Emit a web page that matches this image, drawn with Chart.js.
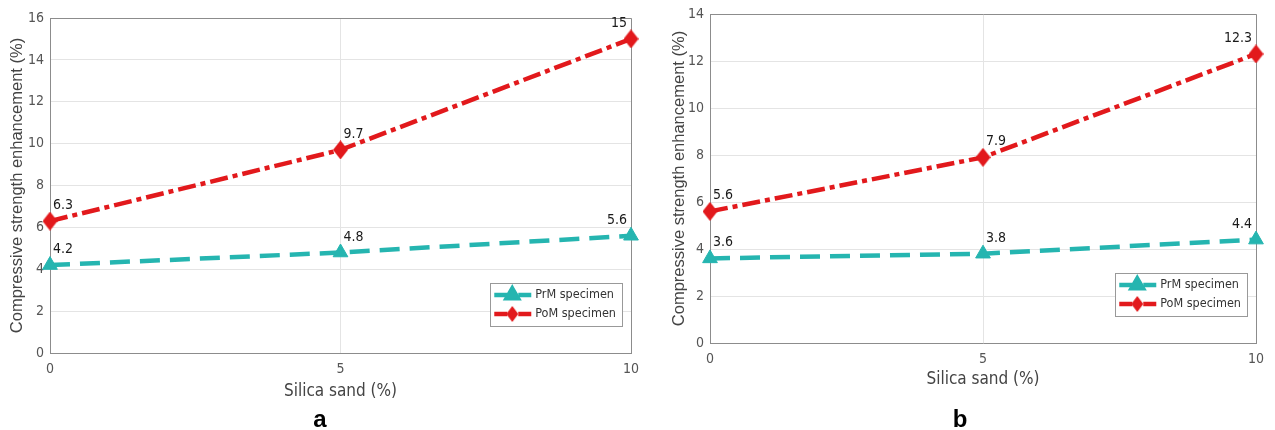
<!DOCTYPE html>
<html lang="en">
<head>
<meta charset="UTF-8">
<title>Compressive strength enhancement vs silica sand</title>
<script src="https://cdn.jsdelivr.net/npm/chart.js"></script>
<style>
  body { margin: 0; background: #fff; width: 1275px; height: 430px; position: relative; overflow: hidden; }
  canvas { position: absolute; top: 0; }
  #chartA { left: 0; }
  #chartB { left: 640px; }
  .panel { position: absolute; top: 407px; transform: translateX(-50%); font: bold 24px "Liberation Sans", Arial, sans-serif; line-height: 24px; color: #000; }
</style>
</head>
<body>

<canvas id="chartA" width="640" height="430"></canvas>
<canvas id="chartB" width="635" height="430"></canvas>
<div class="panel" style="left:320px">a</div>
<div class="panel" style="left:960px">b</div>

<script>
  // data
  const silicaSand = [0, 5, 10];
  const seriesNames = ['PrM specimen', 'PoM specimen'];
  const prmA = [4.2, 4.8, 5.6];
  const pomA = [6.3, 9.7, 15];
  const prmB = [3.6, 3.8, 4.4];
  const pomB = [5.6, 7.9, 12.3];
  const xTicks = [0, 5, 10];

  const teal = '#25b5b0';
  const red = '#e2191c';
  const narrow = '"Liberation Sans Narrow", "DejaVu Sans Condensed", Arial, sans-serif';
  const regular = '"Liberation Sans", Arial, sans-serif';

  // MATLAB-like diamond: a bit taller than wide
  function diamond(w, h) {
    const c = document.createElement('canvas');
    c.width = w; c.height = h;
    const g = c.getContext('2d');
    g.fillStyle = red;
    g.beginPath();
    g.moveTo(w / 2, 0);
    g.lineTo(w, h / 2);
    g.lineTo(w / 2, h);
    g.lineTo(0, h / 2);
    g.closePath();
    g.fill();
    return c;
  }
  const bigDiamond = diamond(15, 19);
  const smallDiamond = diamond(12, 16);

  // top + right edges of the box
  const boxPlugin = {
    id: 'box',
    beforeDatasetsDraw(chart) {
      const a = chart.chartArea, ctx = chart.ctx;
      ctx.save();
      ctx.strokeStyle = '#8c8c8c';
      ctx.lineWidth = 1;
      ctx.beginPath();
      ctx.moveTo(Math.round(a.left) + 0.5, Math.round(a.top) + 0.5);
      ctx.lineTo(Math.round(a.right) + 0.5, Math.round(a.top) + 0.5);
      ctx.lineTo(Math.round(a.right) + 0.5, Math.round(a.bottom) + 0.5);
      ctx.stroke();
      ctx.restore();
    }
  };

  const valueLabels = {
    id: 'valueLabels',
    afterDatasetsDraw(chart) {
      const ctx = chart.ctx;
      ctx.save();
      ctx.font = '14px ' + narrow;
      ctx.fillStyle = '#1a1a1a';
      ctx.textBaseline = 'alphabetic';
      chart.data.datasets.forEach((ds, di) => {
        chart.getDatasetMeta(di).data.forEach((pt, i) => {
          const last = i === ds.data.length - 1;
          ctx.textAlign = last ? 'right' : 'left';
          ctx.fillText(String(ds.data[i].y), pt.x + (last ? -4 : 3), pt.y - 12);
        });
      });
      ctx.restore();
    }
  };

  // legend inside the lower right corner of the plot
  const boxLegend = {
    id: 'boxLegend',
    afterDraw(chart) {
      const ctx = chart.ctx, a = chart.chartArea;
      const sets = chart.data.datasets;
      ctx.save();
      ctx.font = '12.5px ' + narrow;
      let tw = 0;
      sets.forEach(ds => { tw = Math.max(tw, ctx.measureText(ds.label).width); });
      const w = 45 + tw + 6, h = 43;
      const right = a.right - 9, bottom = a.bottom - 27;
      const left = right - w, top = bottom - h;
      ctx.fillStyle = '#fff';
      ctx.fillRect(left, top, w, h);
      ctx.strokeStyle = '#999';
      ctx.lineWidth = 1;
      ctx.strokeRect(Math.round(left) + 0.5, Math.round(top) + 0.5, Math.round(w), Math.round(h));
      sets.forEach((ds, i) => {
        const y = top + 12 + i * 19;
        ctx.strokeStyle = ds.borderColor;
        ctx.lineWidth = 4.5;
        ctx.beginPath();
        ctx.moveTo(left + 4, y);
        ctx.lineTo(left + 17, y);
        ctx.moveTo(left + 28, y);
        ctx.lineTo(left + 41, y);
        ctx.stroke();
        if (i === 0) {
          Chart.helpers.drawPoint(ctx, { pointStyle: 'triangle', radius: 6.5, rotation: 0, borderWidth: 1 }, left + 22, y);
          ctx.fillStyle = ds.borderColor;
          ctx.fill();
        } else {
          ctx.drawImage(smallDiamond, left + 22 - 6, y - 8);
        }
        ctx.fillStyle = '#333';
        ctx.textAlign = 'left';
        ctx.textBaseline = 'middle';
        ctx.fillText(ds.label, left + 45, y);
      });
      ctx.restore();
    }
  };

  function buildChart(id, prm, pom, yMax, lay) {
    const pts = arr => silicaSand.map((x, i) => ({ x: x, y: arr[i] }));
    return new Chart(document.getElementById(id), {
      type: 'line',
      data: {
        datasets: [{
          label: seriesNames[0],
          data: pts(prm),
          borderColor: teal,
          backgroundColor: teal,
          borderWidth: 4.5,
          borderDash: [20, 10],
          pointStyle: 'triangle',
          pointRadius: 8.5,
          pointBorderWidth: 1,
          clip: false
        }, {
          label: seriesNames[1],
          data: pts(pom),
          borderColor: red,
          backgroundColor: red,
          borderWidth: 4.5,
          borderDash: [18, 5, 5, 5],
          pointStyle: bigDiamond,
          pointRadius: 9,
          clip: false
        }]
      },
      options: {
        responsive: false,
        animation: false,
        layout: { padding: lay.padding, autoPadding: false },
        plugins: { legend: { display: false }, tooltip: { enabled: false } },
        scales: {
          x: {
            type: 'linear',
            min: 0,
            max: 10,
            afterBuildTicks: s => { s.ticks = xTicks.map(v => ({ value: v })); },
            ticks: { padding: 8, color: '#555', font: { family: narrow, size: 14 } },
            grid: { color: '#e4e4e4', drawTicks: false },
            border: { color: '#8c8c8c' },
            title: { display: true, text: 'Silica sand (%)', padding: 0, color: '#444', font: { family: narrow, size: 17 } },
            // fixed height, and no extra side padding for the end labels
            afterFit: s => { s.height = lay.xH; s.paddingLeft = 0; s.paddingRight = 0; }
          },
          y: {
            min: 0,
            max: yMax,
            ticks: { stepSize: 2, padding: 6, color: '#555', font: { family: narrow, size: 14 } },
            grid: { color: '#e4e4e4', drawTicks: false },
            border: { color: '#8c8c8c' },
            title: { display: true, text: 'Compressive strength enhancement (%)', padding: { top: 8 }, color: '#444', font: { family: regular, size: 16.5 } },
            afterFit: s => { s.width = lay.yW; s.paddingTop = 0; s.paddingBottom = 0; }
          }
        }
      },
      plugins: [boxPlugin, valueLabels, boxLegend]
    });
  }

  buildChart('chartA', prmA, pomA, 16, { padding: { left: 0, right: 9, top: 18, bottom: 28 }, yW: 50, xH: 49 });
  buildChart('chartB', prmB, pomB, 14, { padding: { left: 22, right: 19, top: 14, bottom: 40 }, yW: 48, xH: 47 });
</script>

</body>
</html>
